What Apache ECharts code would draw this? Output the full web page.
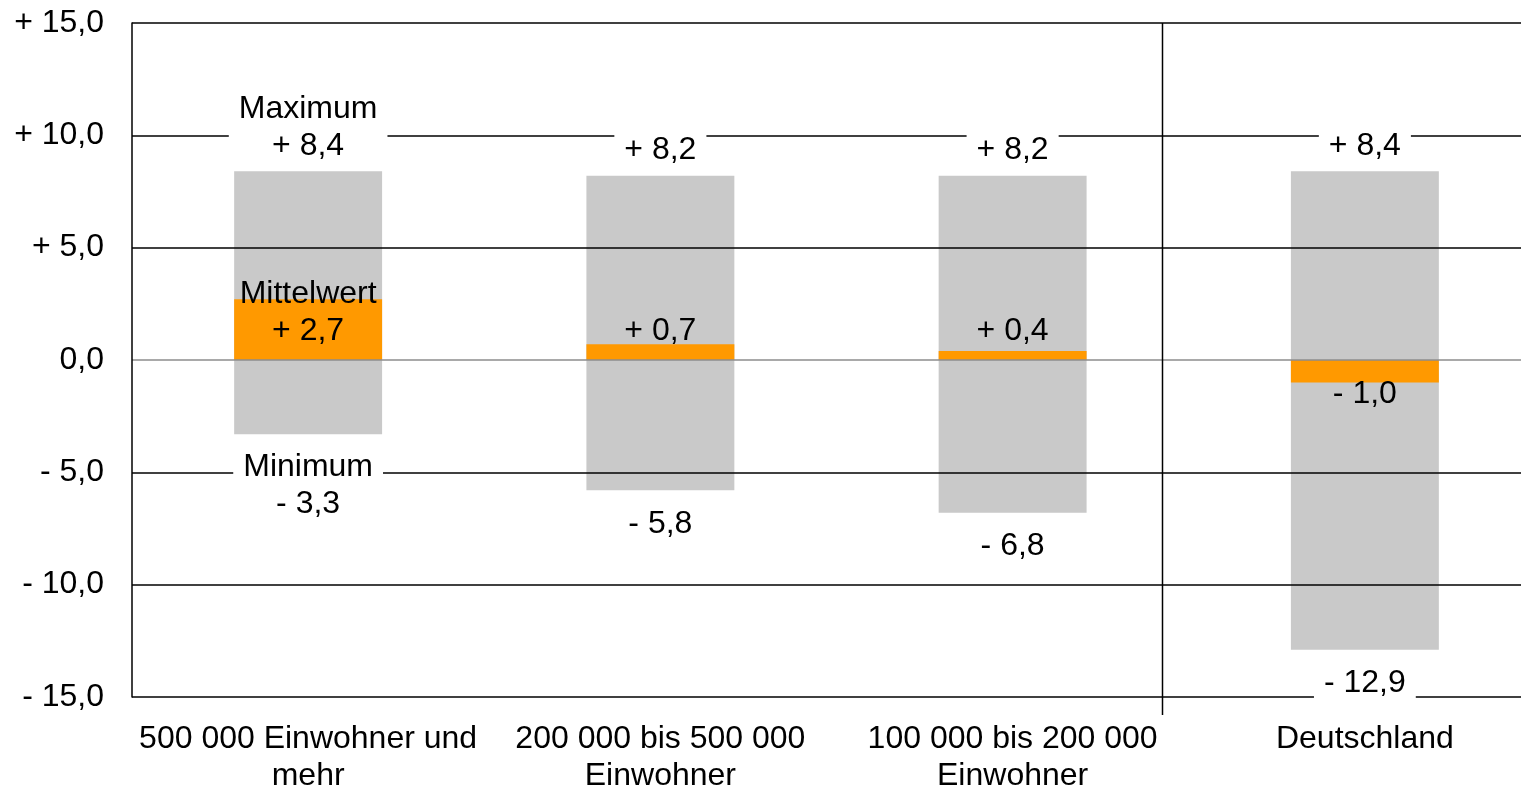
<!DOCTYPE html>
<html>
<head>
<meta charset="utf-8">
<script src="https://cdn.jsdelivr.net/npm/echarts@6/dist/echarts.min.js"></script>
<style>
  html, body { margin: 0; padding: 0; background: #fff; overflow: hidden; }
  #chart { width: 1521px; height: 786px; }
</style>
</head>
<body>
<div id="chart"></div>
<script>
// Range per city-size class: minimum, maximum and mean change
const categories = ['500 000 Einwohner und\nmehr', '200 000 bis 500 000\nEinwohner', '100 000 bis 200 000\nEinwohner', 'Deutschland'];
const maxValues = [8.4, 8.2, 8.2, 8.4];
const minValues = [-3.3, -5.8, -6.8, -12.9];
const meanValues = [2.7, 0.7, 0.4, -1.0];
const yMin = -15, yMax = 15, yStep = 5;
const captionMax = 'Maximum';
const captionMin = 'Minimum';
const captionMean = 'Mittelwert';
// separator between the city classes and the national value (category units)
const dividerAt = 2.425;

const FONT = '"Liberation Sans", Arial, sans-serif';
const FS = 32, LH = 37;

function fmt(v) {
  if (Math.abs(v) < 1e-9) return '0,0';
  const s = Math.abs(v).toFixed(1).replace('.', ',');
  return (v > 0 ? '+ ' : '- ') + s;
}

const baseLabel = { fontFamily: FONT, fontSize: FS, lineHeight: LH, color: '#000', opacity: 1 };

const maxLabelData = maxValues.map((v, i) => ({
  value: [i, v],
  label: Object.assign({}, baseLabel, {
    show: true, position: 'top', distance: 7,
    backgroundColor: '#fff', padding: [0, 10],
    formatter: (i === 0 ? captionMax + '\n' : '') + fmt(v)
  })
}));
const minLabelData = minValues.map((v, i) => ({
  value: [i, v],
  label: Object.assign({}, baseLabel, {
    show: true, position: 'bottom', distance: 15,
    backgroundColor: '#fff', padding: [0, 10],
    formatter: (i === 0 ? captionMin + '\n' : '') + fmt(v)
  })
}));
const meanLabelData = meanValues.map((v, i) => ({
  value: [i, 0],
  label: Object.assign({}, baseLabel, {
    show: true,
    position: v >= 0 ? 'top' : 'bottom',
    distance: v >= 0 ? 10 : 16,
    formatter: (i === 0 ? captionMean + '\n' : '') + fmt(v)
  })
}));

const chart = echarts.init(document.getElementById('chart'), null, { renderer: 'canvas', width: 1521, height: 786 });

const gridColors = [];
for (let t = yMin; t <= yMax + 1e-9; t += yStep) gridColors.push(Math.abs(t) < 1e-9 ? '#8c8c8c' : '#000');

const labelSeries = (data) => ({
  type: 'scatter', data, symbolSize: 0, z: 10, silent: true,
  itemStyle: { opacity: 1 }
});

chart.setOption({
  animation: false,
  backgroundColor: '#fff',
  grid: { left: 132, top: 23, width: 1409, height: 674, containLabel: false, outerBoundsMode: 'none' },
  xAxis: {
    type: 'category',
    data: categories,
    z: 3,
    axisLine: { show: false },
    axisTick: { show: false },
    axisLabel: { fontFamily: FONT, fontSize: FS, lineHeight: LH, color: '#000', margin: 24, interval: 0 },
    splitLine: { show: false }
  },
  yAxis: {
    type: 'value',
    min: yMin, max: yMax, interval: yStep,
    z: 3,
    axisLine: { show: true, lineStyle: { color: '#000', width: 1.5 } },
    axisTick: { show: false },
    axisLabel: { fontFamily: FONT, fontSize: FS, color: '#000', margin: 28, formatter: fmt },
    splitLine: { show: true, lineStyle: { color: gridColors, width: 1.5 } }
  },
  series: [
    { type: 'bar', name: 'Maximum', data: maxValues, barWidth: '42%', barGap: '-100%', z: 1,
      itemStyle: { color: '#c9c9c9' }, silent: true },
    { type: 'bar', name: 'Minimum', data: minValues, barWidth: '42%', barGap: '-100%', z: 1,
      itemStyle: { color: '#c9c9c9' }, silent: true },
    { type: 'bar', name: 'Mittelwert', data: meanValues, barWidth: '42%', barGap: '-100%', z: 1,
      itemStyle: { color: '#ff9900' }, silent: true },
    labelSeries(maxLabelData),
    labelSeries(minLabelData),
    labelSeries(meanLabelData)
  ]
});

// vertical separator line, reaching a little below the category axis
const c0 = Math.floor(dividerAt);
const p0 = chart.convertToPixel({ xAxisIndex: 0 }, c0);
const p1 = chart.convertToPixel({ xAxisIndex: 0 }, c0 + 1);
const dx = Math.round(p0 + (dividerAt - c0) * (p1 - p0)) + 0.5;
const yTop = chart.convertToPixel({ yAxisIndex: 0 }, yMax);
const yBot = chart.convertToPixel({ yAxisIndex: 0 }, yMin) + 18;
chart.setOption({
  graphic: [{
    type: 'line', z: 4, silent: true,
    shape: { x1: dx, y1: yTop, x2: dx, y2: yBot },
    style: { stroke: '#000', lineWidth: 1.5 }
  }]
});
</script>
</body>
</html>
